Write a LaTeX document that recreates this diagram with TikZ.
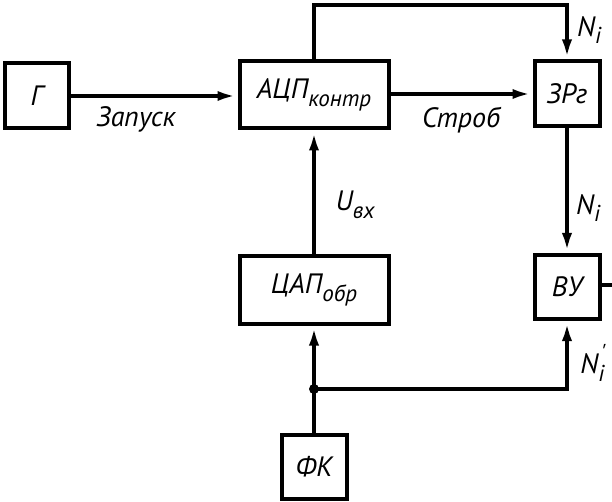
\documentclass[tikz,border=0pt]{standalone}
\usepackage{fontspec}
\newfontfamily\gostfont{PT Sans}
\usetikzlibrary{arrows.meta}
\tikzset{>={Latex[length=20pt,width=10pt]}}
\tikzset{blk/.style={draw, line width=4pt, inner sep=0pt},
         lbl/.style={font=\gostfont\itshape\fontsize{28}{32}\selectfont}}
\newcommand{\lowidx}[1]{\raisebox{-0.55ex}{\fontsize{23}{26}\selectfont #1}}

\begin{document}
\begin{tikzpicture}[x=1pt, y=-1pt, line width=4pt]
      \useasboundingbox (0,0) rectangle (612,502);
      % blocks
      \node (g) at (36.5,96) [blk, lbl, minimum width=64pt, minimum height=65pt] {Г};
      \node (acp) at (314,95) [blk, lbl, minimum width=149pt, minimum height=67pt] {АЦП\lowidx{контр}};
      \node (zrg) at (567,94) [blk, lbl, minimum width=65pt, minimum height=65pt] {ЗРг};
      \node (cap) at (314,290) [blk, lbl, minimum width=149pt, minimum height=67pt] {ЦАП\lowidx{обр}};
      \node (vu) at (567,287) [blk, lbl, minimum width=65pt, minimum height=64pt] {ВУ};
      \node (fk) at (314,466.5) [blk, lbl, minimum width=65pt, minimum height=64pt] {ФК};
      \coordinate (top) at (0,5);
      \coordinate (jn) at (314,389);
      \coordinate (out) at (612,285);

      % connections
      \draw[->] (g.east) -- (g.east -| acp.west);
      \draw[->] (acp.east |- zrg.west) -- (zrg.west);
      \draw[->] (acp.north) -- (acp.north |- top) -| (zrg.north);
      \draw[->] (zrg) -- (vu);
      \draw[->] (cap) -- (acp);
      \draw (fk) -- (jn);
      \draw[->] (jn) -- (cap);
      \draw[->] (jn) -| (vu);
      \fill (jn) circle (5pt);
      \draw (vu.east |- out) -- (out);

      % labels
      \node (zapusk) at (136,119) [lbl] {Запуск};
      \node (strob) at (461,120) [lbl] {Строб};
      \node (ni1) at (589,30) [lbl] {N\lowidx{i}};
      \node (uvx) at (355,205) [lbl] {U\lowidx{вх}};
      \node (ni2) at (588,208) [lbl] {N\lowidx{i}};
      \node (ni3) at (593,363) [lbl] {N\lowidx{i}\kern-0.12em\raisebox{0.45em}{\fontsize{23}{26}\selectfont '}};
\end{tikzpicture}
\end{document}
